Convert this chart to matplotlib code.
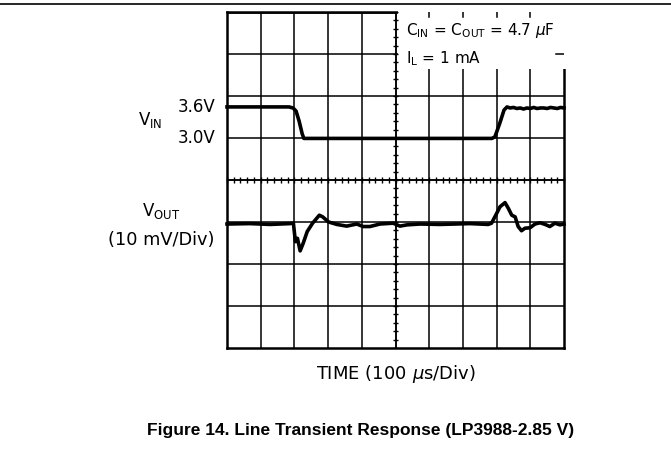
import numpy as np
import matplotlib
matplotlib.use("Agg")
import matplotlib.pyplot as plt
from matplotlib.patches import Rectangle

# ---- data ----
vin_t = [0, 184, 196, 205, 214, 223, 228, 786, 795, 810, 822, 831,
         840, 850, 860, 870, 880, 890, 900, 910, 920, 930, 940, 950,
         960, 970, 980, 990, 1000]  # time, us
vin_v = [3.60, 3.60, 3.58, 3.52, 3.33, 3.09, 3.00, 3.00, 3.03, 3.30, 3.54, 3.60,
         3.58, 3.59, 3.57, 3.58, 3.56, 3.58, 3.57, 3.59, 3.57, 3.58, 3.58, 3.57,
         3.59, 3.58, 3.57, 3.59, 3.58]  # V

vout_t = [0, 68, 128, 187, 197, 203, 209, 217, 226, 238, 254, 274, 284, 301,
          326, 355, 385, 404, 424, 454, 493, 513, 534, 573, 632, 721, 775, 785,
          800, 810, 825, 835, 845, 855, 864, 874, 884, 899, 914, 929, 944, 958,
          973, 988, 1000]  # time, us
vout_mv = [0, 0.1, -0.1, 0.1, 0.2, -4.2, -3.4, -6.4, -4.6, -1.8, 0.2, 2.1, 1.7, 0.5,
           -0.1, -0.5, 0, -0.6, -0.6, 0, 0.2, -0.5, -0.2, 0, -0.1, 0.1, -0.1, 0.2,
           2.5, 4.1, 5.1, 3.7, 2.1, 1.7, -0.6, -1.6, -1.0, -0.9, 0, 0.3, -0.1, -0.6,
           0.2, -0.2, 0]  # deviation, mV

vin_labels = ["3.6V", "3.0V"]
vin_label_levels = [3.6, 3.0]

# scope scaling (divisions)
T_DIV = 100.0  # us/div
VOUT_DIV = 10.0  # mV/div
VOUT_BASE = 2.952
VIN_BASE = 4.99
VIN_GAIN = 1.25  # div per V

def vin_div(v):
    return VIN_BASE + (np.asarray(v) - 3.0) * VIN_GAIN

def vout_div(mv):
    return VOUT_BASE + np.asarray(mv) / VOUT_DIV

W, H = 671, 474
fig = plt.figure(figsize=(W / 100, H / 100), dpi=100)
L, R, T, B = 227, 564, 12, 348
ax = fig.add_axes([L / W, (H - B) / H, (R - L) / W, (B - T) / H])
ax.set_xlim(0, 10)
ax.set_ylim(0, 8)
ax.set_xticks([])
ax.set_yticks([])
for s in ax.spines.values():
    s.set_linewidth(1.8)
    s.set_zorder(3)

# grid
for x in range(1, 10):
    ax.axvline(x, color="black", lw=1.1, zorder=1)
for y in range(1, 8):
    ax.axhline(y, color="black", lw=1.1, zorder=1)

# white annotation box covering part of the grid
ax.add_patch(Rectangle((5.06, 6.64), 5.2, 1.5, facecolor="white", edgecolor="none",
                       zorder=4, clip_on=False))
for x in [6, 7, 8, 9]:
    ax.plot([x, x], [7.88, 8.0], color="black", lw=1.1, zorder=5)
ax.plot([9.76, 10.0], [7.0, 7.0], color="black", lw=1.1, zorder=5)
ax.plot([0, 5], [8, 8], color="black", lw=1.8, zorder=5, solid_capstyle="butt")

# center axes with minor ticks
ax.plot([5, 5], [0, 8], color="black", lw=1.1, zorder=5)
ax.plot([0, 10], [4, 4], color="black", lw=1.1, zorder=5)
minor = np.arange(0, 10.001, 0.2)
ax.vlines(minor, 4 - 0.06, 4 + 0.06, color="black", lw=1.0, zorder=5, clip_on=False)
minor_y = np.arange(0, 8.001, 0.2)
ax.hlines(minor_y, 5 - 0.075, 5 + 0.075, color="black", lw=1.0, zorder=5)

# traces
ax.plot(np.array(vin_t) / T_DIV, vin_div(vin_v), color="black", lw=2.6, zorder=6,
        solid_joinstyle="round", clip_on=False)
ax.plot(np.array(vout_t) / T_DIV, vout_div(vout_mv), color="black", lw=2.6, zorder=6,
        solid_joinstyle="round", clip_on=False)

fs = 12
txt = dict(fontsize=fs, family="DejaVu Sans", color="black")
# annotation
ax.text(5.3, 7.55, r"C$_\mathregular{IN}$ = C$_\mathregular{OUT}$ = 4.7 $\mu$F",
        ha="left", va="center", zorder=7, fontsize=11, family="DejaVu Sans")
ax.text(5.3, 6.9, r"I$_\mathregular{L}$ = 1 mA", ha="left", va="center", zorder=7,
        fontsize=11, family="DejaVu Sans")

# left labels (figure pixel coords)
def fx(px):
    return px / W

def fy(py):
    return 1 - py / H

for lab, lev in zip(vin_labels, vin_label_levels):
    yd = vin_div(lev)
    ypx = B - yd * (B - T) / 8
    fig.text(fx(215), fy(ypx), lab, ha="right", va="center", **txt)
fig.text(fx(150), fy(120), r"V$_\mathregular{IN}$", ha="center", va="center", **txt)
fig.text(fx(161), fy(211), r"V$_\mathregular{OUT}$", ha="center", va="center", **txt)
fig.text(fx(161), fy(240), "(10 mV/Div)", ha="center", va="center",
         fontsize=12.8, family="DejaVu Sans")
fig.text(fx(395.5), fy(374), r"TIME (100 $\mu$s/Div)", ha="center", va="center",
         fontsize=13, family="DejaVu Sans")

# caption
fig.text(fx(361), fy(430), "Figure 14. Line Transient Response (LP3988-2.85 V)",
         ha="center", va="center", fontsize=12.5, fontweight="bold",
         family="Liberation Sans")

# top rule
fig.add_artist(plt.Line2D([0, 1], [fy(4), fy(4)], color="black", lw=1.2,
                          transform=fig.transFigure))

fig.savefig("out.png", dpi=100)
